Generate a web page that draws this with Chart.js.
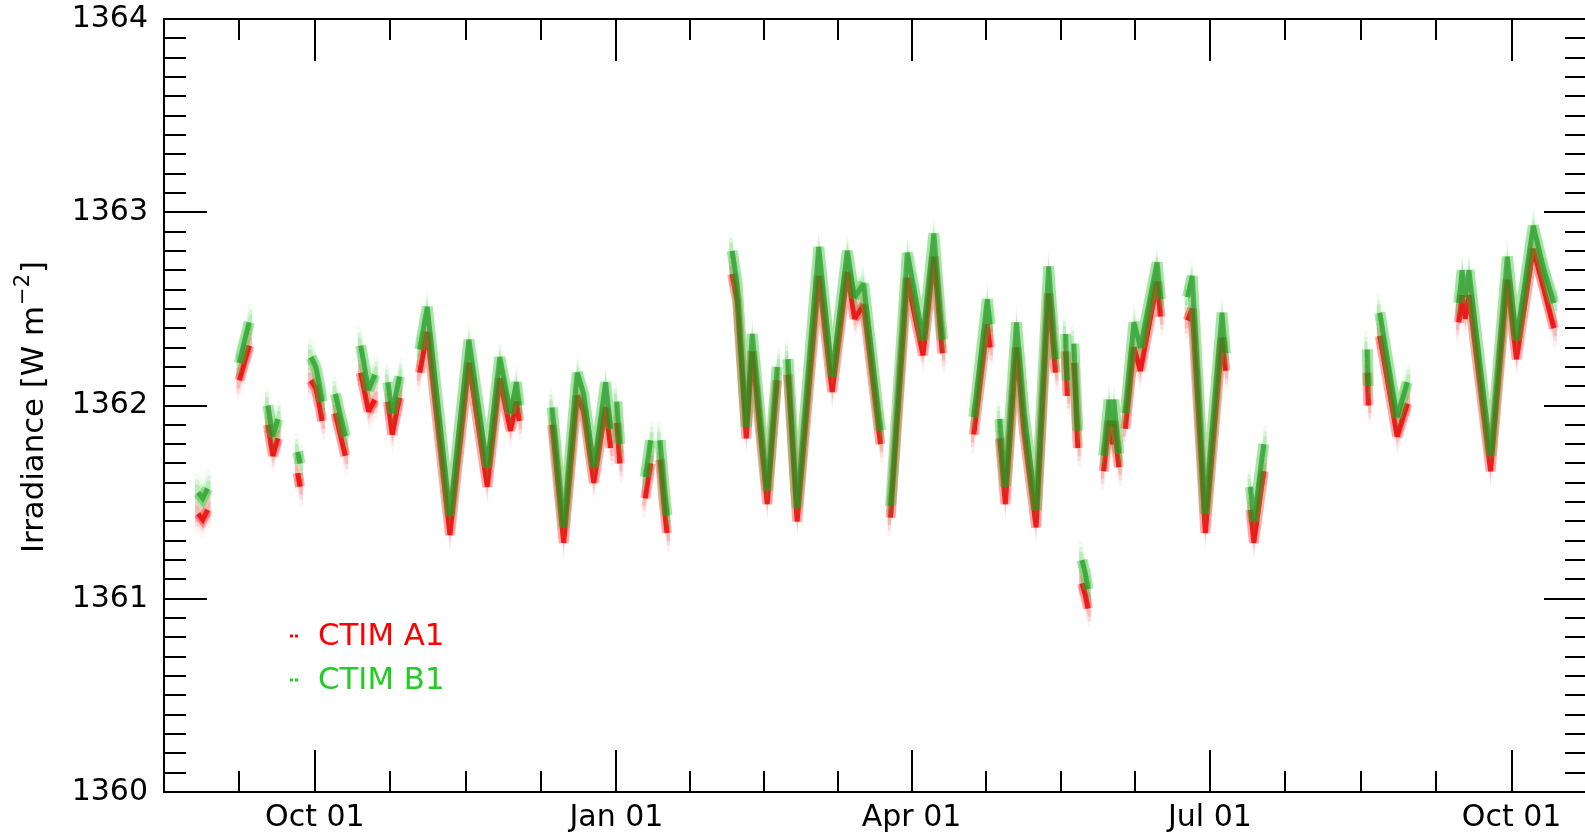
<!DOCTYPE html>
<html>
<head>
<meta charset="utf-8">
<script src="https://cdn.jsdelivr.net/npm/chart.js@4.4.1/dist/chart.umd.min.js"></script>
<style>
  html, body { margin: 0; padding: 0; background: #ffffff; overflow: hidden; }
  canvas { display: block; }
</style>
</head>
<body>
<canvas id="tsi" width="1600" height="835"></canvas>
<script>
// Day numbers counted from 1 Oct 2022 (day 0). null separates observing runs.
const days = [
  -35.6, -34.2, -32.7, null,
  -23.0, -21.5, -20.0, null,
  -14.3, -12.8, -11.3, null,
  -5.2, -4.5, null,
  -1.2, 0.3, 1.5, 2.2, null,
  6.3, 7.9, 9.3, null,
  14.0, 16.4, 18.3, null,
  22.3, 23.6, 25.8, null,
  32.0, 34.3, 41.2, 47.0, 52.6, 56.4, 59.7, 61.5, 62.3, null,
  72.4, 75.9, 80.0, 82.0, 85.1, 88.7, 90.2, null,
  92.1, 93.0, null,
  100.8, 102.4, null,
  105.3, 106.4, 107.4, null,
  127.3, 128.8, 131.6, 133.4, 138.0, 141.0, null,
  144.3, 147.1, 153.7, 157.8, 162.4, 164.6, 167.4, 172.5, null,
  175.6, 180.7, 182.8, 185.5, 188.8, 191.4, null,
  201.0, 205.1, 205.9, null,
  208.9, 210.6, 214.0, 216.3, 220.0, 223.8, 225.9, null,
  229.0, 229.5, null,
  231.5, 232.7, null,
  234.0, 235.0, 235.8, null,
  240.6, 242.2, 243.2, 243.7, 245.2, null,
  247.2, 249.8, 251.8, 256.9, 257.9, null,
  266.2, 267.6, 271.6, 276.7, 277.7, null,
  285.4, 286.4, 289.4, null,
  321.0, 321.3, null,
  324.8, 330.1, 333.2, null,
  348.9, 349.9, 350.9, 352.0, 358.6, 363.7, 366.5, 371.6, 374.9, 377.9
];

// Irradiance, W m^-2
const ctimB1 = [
  1361.55, 1361.52, 1361.57, null,
  1362.22, 1362.33, 1362.43, null,
  1362.00, 1361.84, 1361.93, null,
  1361.76, 1361.70, null,
  1362.25, 1362.20, 1362.10, 1362.02, null,
  1362.06, 1361.94, 1361.84, null,
  1362.31, 1362.08, 1362.16, null,
  1362.12, 1361.96, 1362.15, null,
  1362.29, 1362.51, 1361.43, 1362.34, 1361.68, 1362.25, 1361.96, 1362.12, 1362.00, null,
  1361.99, 1361.37, 1362.17, 1362.06, 1361.68, 1362.12, 1361.88, null,
  1362.02, 1361.80, null,
  1361.63, 1361.82, null,
  1361.82, 1361.60, 1361.43, null,
  1362.80, 1362.63, 1361.89, 1362.37, 1361.56, 1362.20, null,
  1362.24, 1361.47, 1362.82, 1362.15, 1362.80, 1362.56, 1362.63, 1361.87, null,
  1361.48, 1362.79, 1362.60, 1362.34, 1362.89, 1362.34, null,
  1361.94, 1362.55, 1362.42, null,
  1361.93, 1361.58, 1362.43, 1361.96, 1361.46, 1362.72, 1362.24, null,
  1362.37, 1362.13, null,
  1362.32, 1361.87, null,
  1361.20, 1361.13, 1361.05, null,
  1361.74, 1362.03, 1361.89, 1362.03, 1361.75, null,
  1361.96, 1362.43, 1362.30, 1362.74, 1362.55, null,
  1362.56, 1362.67, 1361.44, 1362.48, 1362.27, null,
  1361.58, 1361.40, 1361.80, null,
  1362.29, 1362.10, null,
  1362.48, 1361.94, 1362.12, null,
  1362.53, 1362.70, 1362.56, 1362.70, 1361.74, 1362.77, 1362.34, 1362.93, 1362.70, 1362.53
];

const ctimA1 = [
  1361.44, 1361.41, 1361.46, null,
  1362.13, 1362.22, 1362.31, null,
  1361.90, 1361.74, 1361.83, null,
  1361.65, 1361.58, null,
  1362.13, 1362.09, 1361.99, 1361.92, null,
  1361.96, 1361.84, 1361.74, null,
  1362.17, 1361.97, 1362.03, null,
  1362.02, 1361.85, 1362.04, null,
  1362.17, 1362.38, 1361.33, 1362.22, 1361.58, 1362.14, 1361.87, 1362.02, 1361.92, null,
  1361.90, 1361.29, 1362.05, 1361.97, 1361.60, 1361.99, 1361.78, null,
  1361.91, 1361.70, null,
  1361.52, 1361.70, null,
  1361.72, 1361.50, 1361.34, null,
  1362.68, 1362.54, 1361.83, 1362.28, 1361.49, 1362.13, null,
  1362.16, 1361.40, 1362.67, 1362.07, 1362.69, 1362.45, 1362.52, 1361.80, null,
  1361.42, 1362.66, 1362.48, 1362.26, 1362.77, 1362.27, null,
  1361.85, 1362.42, 1362.30, null,
  1361.83, 1361.49, 1362.30, 1361.86, 1361.37, 1362.58, 1362.17, null,
  1362.28, 1362.05, null,
  1362.22, 1361.78, null,
  1361.08, 1361.02, 1360.95, null,
  1361.66, 1361.92, 1361.80, 1361.92, 1361.68, null,
  1361.88, 1362.30, 1362.18, 1362.64, 1362.46, null,
  1362.44, 1362.50, 1361.34, 1362.35, 1362.18, null,
  1361.46, 1361.29, 1361.66, null,
  1362.17, 1362.00, null,
  1362.36, 1361.84, 1362.01, null,
  1362.43, 1362.57, 1362.45, 1362.57, 1361.66, 1362.65, 1362.24, 1362.81, 1362.60, 1362.40
];

// Axis ticks
const xRange = [-46, 388];
const xTickDays = [0, 92, 182, 273, 365];
const xTickLabels = ['Oct 01', 'Jan 01', 'Apr 01', 'Jul 01', 'Oct 01'];
const xMinorDays = [-23, 23, 46, 69, 114.5, 137, 159.5, 204.75, 227.5, 250.25, 296, 319, 342];
const yTickValues = [1360, 1361, 1362, 1363, 1364];
const yTickLabels = ['1360', '1361', '1362', '1363', '1364'];
const yMinorStep = 0.1;

const seriesNames = ['CTIM A1', 'CTIM B1'];
const seriesColors = ['#ff0000', '#22cc22'];

const FONT = 'DejaVu Sans';
const TICK_SIZE = 30;
const LABEL_SIZE = 30.8;

function toPoints(values) {
  const pts = [];
  let last = null;
  days.forEach((d, i) => {
    if (d === null) {
      pts.push({ x: last, y: null });
    } else {
      pts.push({ x: d, y: values[i] });
      last = d;
    }
  });
  return pts;
}

// one drawn layer of a series; `scatter` layers also get a vertical noise envelope
function layer(label, values, color, width, order, scatter) {
  return {
    label: label,
    data: toPoints(values),
    borderColor: color,
    borderWidth: width,
    borderJoinStyle: 'miter',
    borderCapStyle: 'butt',
    pointRadius: 0,
    fill: false,
    tension: 0,
    spanGaps: false,
    order: order,
    scatter: scatter || null
  };
}

// vertical scatter envelope around each run of points, in pixel space
const scatterPlugin = {
  id: 'scatterEnvelope',
  beforeDatasetDraw(chart, args) {
    const ctx = chart.ctx;
    ctx.miterLimit = 2.5;
    const ds = chart.data.datasets[args.index];
    if (!ds.scatter) return;
    const pts = args.meta.data;
    const runs = [];
    let run = [];
    pts.forEach(p => {
      if (p.skip || isNaN(p.y)) { if (run.length) runs.push(run); run = []; }
      else run.push(p);
    });
    if (run.length) runs.push(run);
    ctx.save();
    const a = chart.chartArea;
    ctx.beginPath();
    ctx.rect(a.left, a.top, a.right - a.left, a.bottom - a.top);
    ctx.clip();
    ds.scatter.forEach(s => {
      ctx.fillStyle = s.color;
      runs.forEach(r => {
        const first = r[0], last = r[r.length - 1];
        ctx.beginPath();
        ctx.moveTo(first.x - 3, first.y - s.half);
        r.forEach(p => ctx.lineTo(p.x, p.y - s.half));
        ctx.lineTo(last.x + 3, last.y - s.half);
        ctx.lineTo(last.x + 3, last.y + s.half);
        for (let i = r.length - 1; i >= 0; i--) ctx.lineTo(r[i].x, r[i].y + s.half);
        ctx.lineTo(first.x - 3, first.y + s.half);
        ctx.closePath();
        ctx.fill();
      });
    });
    ctx.restore();
  }
};

// inward tick marks, frame, axis title and legend
const framePlugin = {
  id: 'frame',
  afterDraw(chart) {
    const { ctx, chartArea: a, scales } = chart;
    const xs = scales.x, ys = scales.y;
    ctx.save();
    ctx.strokeStyle = '#000';
    ctx.lineWidth = 2;
    ctx.lineCap = 'butt';
    ctx.beginPath();
    const xTick = (v, len) => {
      const p = Math.round(xs.getPixelForValue(v));
      ctx.moveTo(p, a.bottom); ctx.lineTo(p, a.bottom - len);
      ctx.moveTo(p, a.top); ctx.lineTo(p, a.top + len);
    };
    const yTick = (v, len) => {
      const p = Math.round(ys.getPixelForValue(v));
      ctx.moveTo(a.left, p); ctx.lineTo(a.left + len, p);
      ctx.moveTo(a.right, p); ctx.lineTo(a.right - len, p);
    };
    xTickDays.forEach(v => xTick(v, 42));
    xMinorDays.forEach(v => xTick(v, 21));
    yTickValues.forEach(v => yTick(v, 43));
    for (let v = yTickValues[0] + yMinorStep; v < yTickValues[yTickValues.length - 1] - 1e-6; v += yMinorStep) {
      if (Math.abs(v - Math.round(v)) > 1e-6) yTick(v, 22);
    }
    ctx.stroke();
    ctx.strokeRect(a.left, a.top, a.right - a.left, a.bottom - a.top);

    // y-axis title with superscript
    ctx.save();
    ctx.translate(35, 407);
    ctx.rotate(-Math.PI / 2);
    ctx.fillStyle = '#000';
    ctx.textBaseline = 'middle';
    ctx.textAlign = 'left';
    const main = 'Irradiance [W m';
    const sup = '\u22122';
    const close = ']';
    const big = LABEL_SIZE + 'px "' + FONT + '"';
    const small = '21px "' + FONT + '"';
    ctx.font = big;
    const w1 = ctx.measureText(main).width;
    const w3 = ctx.measureText(close).width;
    ctx.font = small;
    const w2 = ctx.measureText(sup).width;
    const x0 = -(w1 + w2 + w3 + 2) / 2;
    ctx.font = big;
    ctx.fillText(main, x0, 0);
    ctx.font = small;
    ctx.fillText(sup, x0 + w1 + 1, -11);
    ctx.font = big;
    ctx.fillText(close, x0 + w1 + w2 + 2, 0);
    ctx.restore();

    // legend
    ctx.font = LABEL_SIZE + 'px "' + FONT + '"';
    ctx.textBaseline = 'middle';
    ctx.textAlign = 'left';
    const rows = [636, 680];
    seriesNames.forEach((name, i) => {
      ctx.fillStyle = seriesColors[i];
      ctx.fillRect(290, rows[i] - 1.5, 3, 3);
      ctx.fillRect(295, rows[i] - 1.5, 3, 3);
      ctx.fillText(name, 318, rows[i] + 1);
    });
    ctx.restore();
  }
};

new Chart(document.getElementById('tsi'), {
  type: 'line',
  data: {
    datasets: [
      layer('CTIM B1', ctimB1, 'rgba(30,140,30,0.62)', 5, 0),
      layer('CTIM B1 spread', ctimB1, 'rgba(40,195,40,0.42)', 11, 1, [
        { half: 19, color: 'rgba(40,200,40,0.06)' },
        { half: 13, color: 'rgba(40,200,40,0.12)' },
        { half: 8, color: 'rgba(40,200,40,0.18)' }
      ]),
      layer('CTIM A1', ctimA1, 'rgba(235,0,0,0.8)', 5, 2),
      layer('CTIM A1 spread', ctimA1, 'rgba(255,10,10,0.35)', 10, 3, [
        { half: 19, color: 'rgba(255,0,0,0.05)' },
        { half: 13, color: 'rgba(255,0,0,0.10)' },
        { half: 8, color: 'rgba(255,0,0,0.16)' }
      ])
    ]
  },
  options: {
    responsive: false,
    animation: false,
    events: [],
    layout: { padding: { top: 19, right: 13, left: 0, bottom: 0 } },
    plugins: { legend: { display: false }, tooltip: { enabled: false } },
    scales: {
      x: {
        type: 'linear',
        min: xRange[0],
        max: xRange[1],
        afterBuildTicks: s => { s.ticks = xTickDays.map(v => ({ value: v })); },
        afterFit: s => { s.height = 43; s.paddingLeft = 0; s.paddingRight = 0; },
        grid: { display: false, drawTicks: false },
        border: { display: false },
        ticks: {
          autoSkip: false,
          maxRotation: 0,
          padding: 8,
          color: '#000',
          font: { family: FONT, size: TICK_SIZE },
          callback: (v, i) => xTickLabels[i]
        }
      },
      y: {
        type: 'linear',
        min: yTickValues[0],
        max: yTickValues[yTickValues.length - 1],
        afterBuildTicks: s => { s.ticks = yTickValues.map(v => ({ value: v })); },
        afterFit: s => { s.width = 164; s.paddingTop = 0; s.paddingBottom = 0; },
        grid: { display: false, drawTicks: false },
        border: { display: false },
        ticks: {
          autoSkip: false,
          padding: 16,
          color: '#000',
          font: { family: FONT, size: TICK_SIZE },
          callback: (v, i) => yTickLabels[i]
        }
      }
    }
  },
  plugins: [scatterPlugin, framePlugin]
});
</script>
</body>
</html>
